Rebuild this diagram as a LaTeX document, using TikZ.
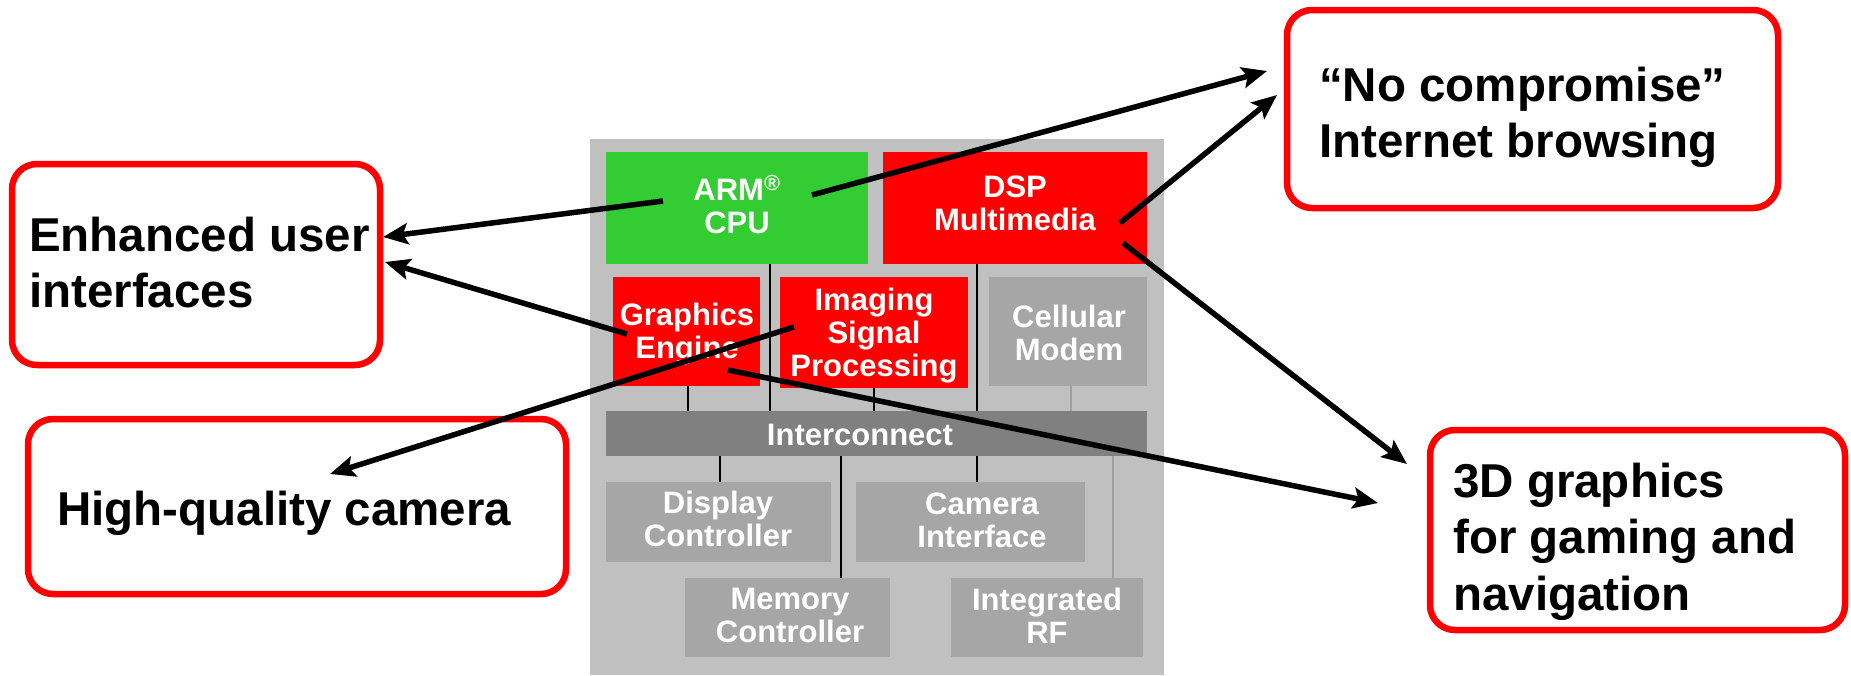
\documentclass[tikz,border=0pt]{standalone}
\usepackage{fontspec}
\setmainfont{Liberation Sans}
\usetikzlibrary{arrows.meta}

% stacked lines whose reference point is the baseline of the first line
\newcommand\txtlines[2][c]{\begin{tabular}[t]{@{}#1@{}}#2\end{tabular}}

\definecolor{panelgray}{HTML}{C0C0C0}
\definecolor{blockgray}{HTML}{A6A6A6}
\definecolor{busgray}{HTML}{808080}
\definecolor{armgreen}{HTML}{33CC33}
\definecolor{hotred}{HTML}{FF0000}
\definecolor{wiregray}{HTML}{A0A0A0}

\begin{document}
\begin{tikzpicture}[x=1pt,y=-1pt,
  blk/.style={inner sep=0pt, outer sep=0pt, anchor=north west},
  small/.style={inner sep=0pt, anchor=base, text=white,
    font=\fontsize{31}{33}\selectfont\bfseries},
  big/.style={inner sep=0pt, anchor=base west,
    font=\fontsize{47.5}{56.5}\selectfont\bfseries},
  callout/.style={blk, draw=hotred, line width=6.5pt, rounded corners=25pt, fill=white},
  wire/.style={line width=1.6pt, black},
  wiregr/.style={line width=2pt, wiregray},
  arr/.style={line width=5.5pt, black, -{Stealth[length=25pt,width=21pt,inset=5pt]}},
]
\useasboundingbox (0,0) rectangle (1851,675);

% --- chip panel and functional blocks ---
\node[blk, fill=panelgray, minimum width=574pt, minimum height=536pt] (panel) at (590,139) {};
\node[blk, fill=armgreen,  minimum width=262pt, minimum height=112pt] (arm)  at (606,152) {};
\node[blk, fill=hotred,    minimum width=264pt, minimum height=112pt] (dsp)  at (883,152) {};
\node[blk, fill=hotred,    minimum width=147pt, minimum height=109pt] (gfx)  at (613,277) {};
\node[blk, fill=hotred,    minimum width=188pt, minimum height=111pt] (isp)  at (780,277) {};
\node[blk, fill=blockgray, minimum width=158pt, minimum height=109pt] (cell) at (989,277) {};
\node[blk, fill=busgray,   minimum width=541pt, minimum height=45pt]  (ic)   at (606,411) {};
\node[blk, fill=blockgray, minimum width=225pt, minimum height=80pt]  (disp) at (606,482) {};
\node[blk, fill=blockgray, minimum width=229pt, minimum height=80pt]  (cam)  at (856,482) {};
\node[blk, fill=blockgray, minimum width=205pt, minimum height=79pt]  (mem)  at (685,578) {};
\node[blk, fill=blockgray, minimum width=192pt, minimum height=79pt]  (rf)   at (951,578) {};

% block labels
\node[small] (armT)  at (737,200)  {\txtlines{ARM\textsuperscript{®}\\CPU}};
\node[small] (dspT)  at (1015,197) {\txtlines{DSP\\Multimedia}};
\node[small] (gfxT)  at (687,325)  {\txtlines{Graphics\\Engine}};
\node[small] (ispT)  at (874,310)  {\txtlines{Imaging\\Signal\\Processing}};
\node[small] (cellT) at (1069,327) {\txtlines{Cellular\\Modem}};
\node[small] (icT)   at (860,445)  {Interconnect};
\node[small] (dispT) at (718,513)  {\txtlines{Display\\Controller}};
\node[small] (camT)  at (982,514)  {\txtlines{Camera\\Interface}};
\node[small] (memT)  at (790,609)  {\txtlines{Memory\\Controller}};
\node[small] (rfT)   at (1047,610) {\txtlines{Integrated\\RF}};

% --- links to the interconnect ---
\draw[wire]   (688,0 |- gfx.south)  -- (688,0 |- ic.north);
\draw[wire]   (770,0 |- arm.south)  -- (770,0 |- ic.north);
\draw[wire]   (874,0 |- isp.south)  -- (874,0 |- ic.north);
\draw[wire]   (977,0 |- dsp.south)  -- (977,0 |- ic.north);
\draw[wiregr] (1071,0 |- cell.south) -- (1071,0 |- ic.north);
\draw[wire]   (720,0 |- ic.south)   -- (720,0 |- disp.north);
\draw[wire]   (841,0 |- ic.south)   -- (841,0 |- mem.north);
\draw[wire]   (977,0 |- ic.south)   -- (977,0 |- cam.north);
\draw[wiregr] (1113,0 |- ic.south)  -- (1113,0 |- rf.north);

% --- feature callouts ---
\node[callout, minimum width=368pt, minimum height=201pt] (enh) at (12,164) {};
\node[callout, minimum width=538pt, minimum height=175pt] (hqc) at (28,419) {};
\node[callout, minimum width=491pt, minimum height=198pt] (web) at (1287,10) {};
\node[callout, minimum width=415pt, minimum height=200pt] (gam) at (1430,430) {};

\node[big] (enhT) at (29,251)   {\txtlines[l]{Enhanced user\\interfaces}};
\node[big] (hqcT) at (57,525)   {High-quality camera};
\node[big] (webT) at (1319,101) {\txtlines[l]{“No compromise”\\Internet browsing}};
\node[big] (gamT) at (1453,497) {\txtlines[l]{3D graphics\\for gaming and\\navigation}};

% --- arrows from blocks to features ---
\coordinate (armL) at (663,201);  \coordinate (enhA) at (383,237);
\coordinate (armR) at (812,195);  \coordinate (webA) at (1267,71);
\coordinate (dspU) at (1120,223); \coordinate (webB) at (1277,95);
\coordinate (dspD) at (1123,243); \coordinate (gamA) at (1407,464);
\coordinate (gfxR) at (728,370);  \coordinate (gamB) at (1378,503);
\coordinate (gfxL) at (627,334);  \coordinate (enhB) at (385,262);
\coordinate (ispL) at (794,327);  \coordinate (hqcA) at (330,474);

\draw[arr] (armL) -- (enhA);
\draw[arr] (armR) -- (webA);
\draw[arr] (dspU) -- (webB);
\draw[arr] (dspD) -- (gamA);
\draw[arr] (gfxR) -- (gamB);
\draw[arr] (gfxL) -- (enhB);
\draw[arr] (ispL) -- (hqcA);
\end{tikzpicture}
\end{document}
